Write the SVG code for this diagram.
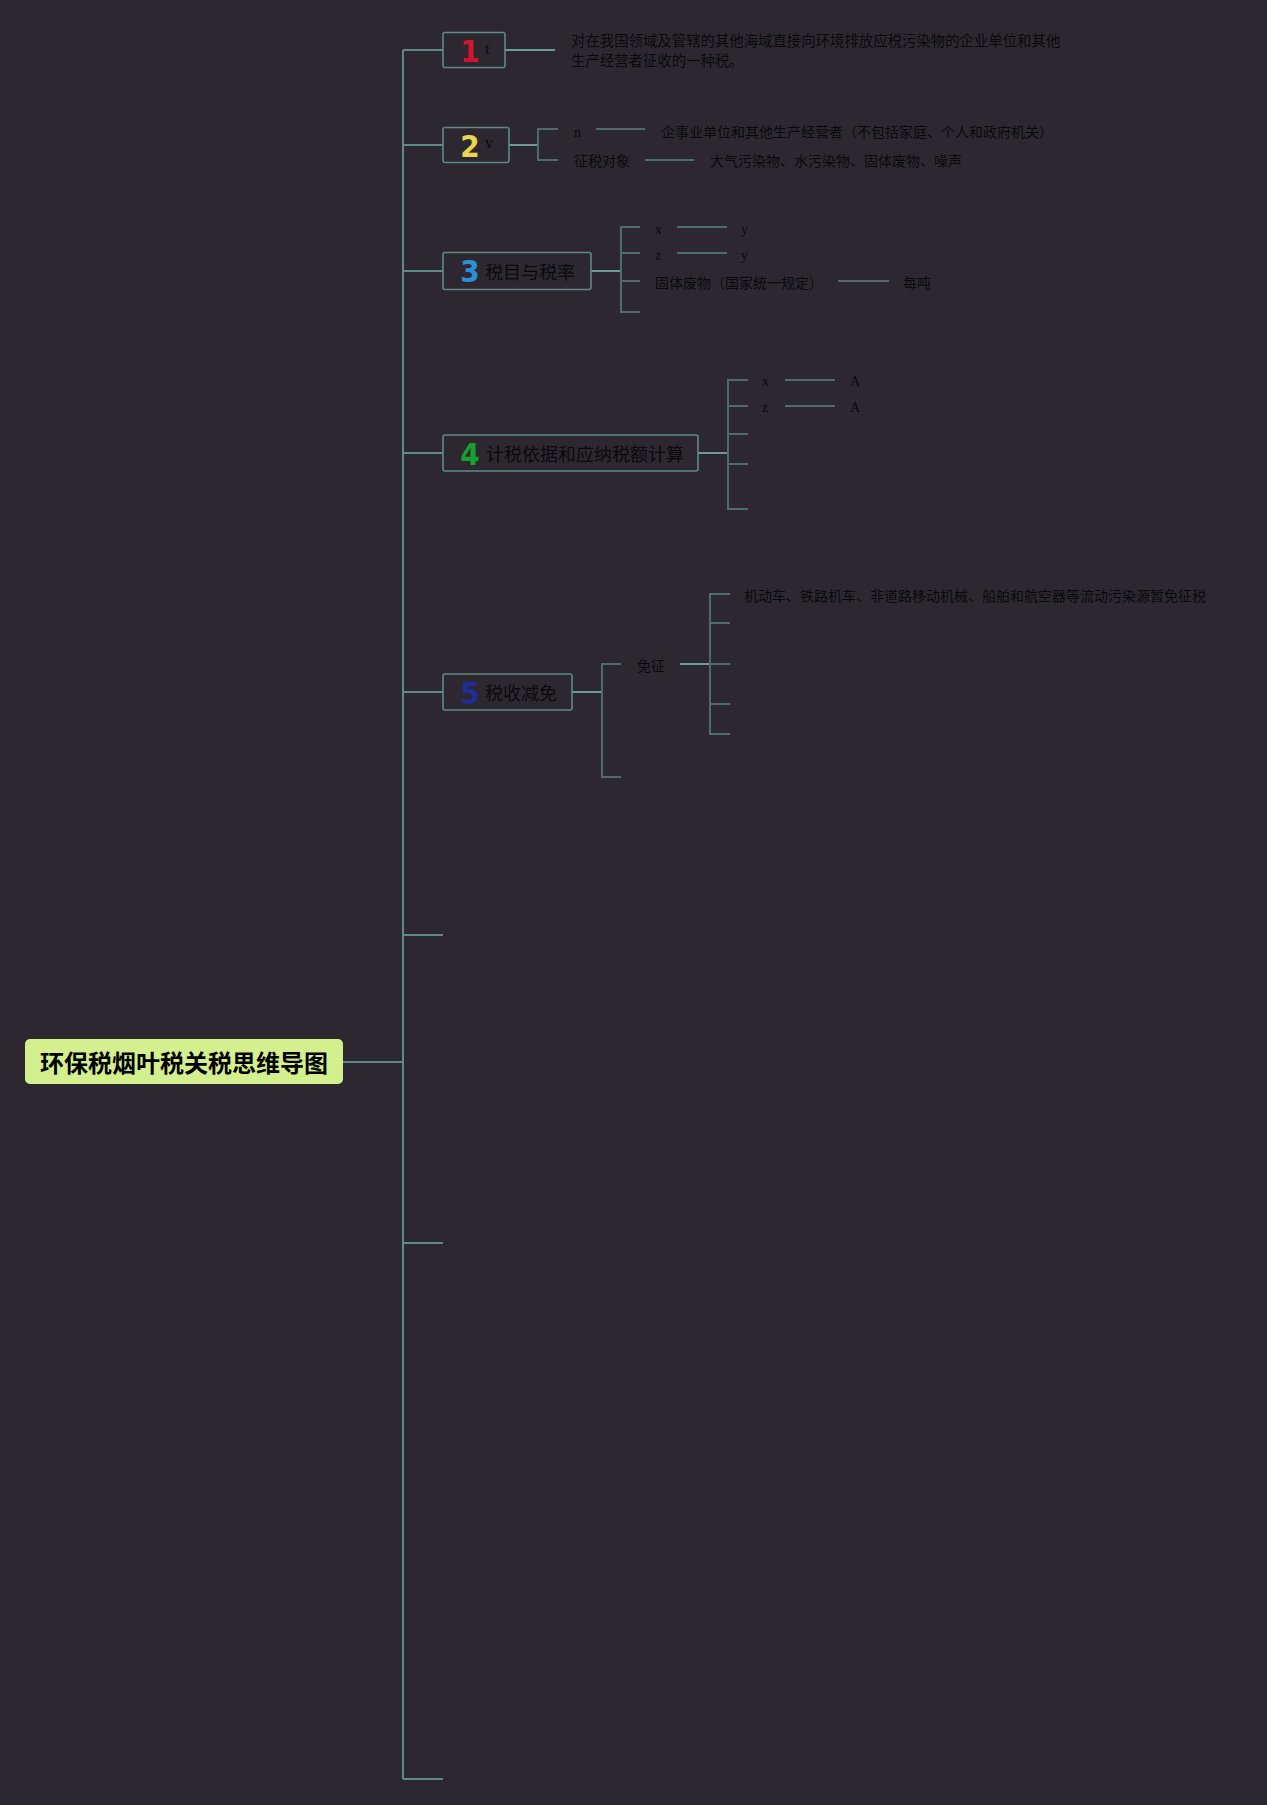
<svg xmlns="http://www.w3.org/2000/svg" width="1267" height="1805" viewBox="0 0 1267 1805">
<style>
.bg{fill:#2d2830}
.main{stroke:#5b8b84;stroke-width:2;fill:none}
.sub{stroke:#4e6c6a;stroke-width:2;fill:none}
.lite{stroke:#6a9e94;stroke-width:2;fill:none}
.box{fill:#2d2830;stroke:#5b8b84;stroke-width:1.6}
.t{font-family:"Liberation Sans","Noto Sans CJK SC",sans-serif;font-size:14px;fill:#0a0a0a}
.d{font-family:"Liberation Sans","Noto Sans CJK SC",sans-serif;font-size:14.4px;fill:#0a0a0a}
.tl{font-family:"Liberation Sans","Noto Sans CJK SC",sans-serif;font-size:18px;fill:#0a0a0a}
.s{font-family:"Liberation Serif",serif;font-size:14px;fill:#0a0a0a}
.sl{font-family:"Liberation Serif",serif;font-size:16px;fill:#0a0a0a}
.num{font-family:"Liberation Sans Narrow","DejaVu Sans Condensed","Liberation Sans",sans-serif;font-size:31px;font-weight:bold;text-anchor:middle}
.root{font-family:"Noto Sans CJK SC",sans-serif;font-size:24px;font-weight:bold;fill:#000;text-anchor:middle}
</style>
<rect class="bg" x="0" y="0" width="1267" height="1805"/>
<g id="connectors">
<path class="main" d="M343 1062H403M403 50V1779M403 50H443M403 145H443M403 271H443M403 453H443M403 692H443M403 935H443M403 1243H443M403 1779H443"/>
<path class="lite" d="M505 50H555M509 145H538M591 271H621M698 453H728M572 692H602M680 664H710"/>
<path class="sub" d="M558 129H538V160H558M596 129H645M645 160H694"/>
<path class="sub" d="M640 227H621V312H640M621 253H640M621 281H640M677 227H727M677 253H727M838 281H889"/>
<path class="sub" d="M748 380H728V509H748M728 406H748M728 434H748M728 464H748M785 380H835M785 406H835"/>
<path class="sub" d="M621 664H602V777H621M730 594H710V734H730M710 623H730M710 664H730M710 704H730"/>
</g>
<g id="root">
<rect x="25" y="1039" width="318" height="45" rx="5" fill="#d4f08e"/>
<text class="root" x="184" y="1072">环保税烟叶税关税思维导图</text>
</g>
<g id="n1">
<rect class="box" x="443" y="32.5" width="62" height="35" rx="2"/>
<text class="num" x="470" y="62" fill="#d3142e">1</text>
<text class="sl" x="485" y="54">t</text>
</g>
<g id="n1-desc">
<text class="d" x="571" y="46">对在我国领域及管辖的其他海域直接向环境排放应税污染物的企业单位和其他</text>
<text class="d" x="571" y="66">生产经营者征收的一种税。</text>
</g>
<g id="n2">
<rect class="box" x="443" y="127.5" width="66" height="35" rx="2"/>
<text class="num" x="470" y="157" fill="#e8d64e">2</text>
<text class="sl" x="485" y="148">v</text>
</g>
<g id="n2-a"><text class="s" x="574" y="137">n</text></g>
<g id="n2-a1"><text class="t" x="661" y="137">企事业单位和其他生产经营者（不包括家庭、个人和政府机关）</text></g>
<g id="n2-b"><text class="t" x="574" y="166">征税对象</text></g>
<g id="n2-b1"><text class="t" x="710" y="166">大气污染物、水污染物、固体废物、噪声</text></g>
<g id="n3">
<rect class="box" x="443" y="252.5" width="148" height="37" rx="2"/>
<text class="num" x="470" y="282" fill="#2a91d8">3</text>
<text class="tl" x="485" y="279">税目与税率</text>
</g>
<g id="n3-a"><text class="s" x="655" y="234">x</text></g>
<g id="n3-a1"><text class="s" x="741" y="234">y</text></g>
<g id="n3-b"><text class="s" x="655" y="260">z</text></g>
<g id="n3-b1"><text class="s" x="741" y="260">y</text></g>
<g id="n3-c"><text class="t" x="655" y="288">固体废物（国家统一规定）</text></g>
<g id="n3-c1"><text class="t" x="903" y="288">每吨</text></g>
<g id="n4">
<rect class="box" x="443" y="435" width="255" height="36" rx="2"/>
<text class="num" x="470" y="465" fill="#17a02c">4</text>
<text class="tl" x="486" y="460.5">计税依据和应纳税额计算</text>
</g>
<g id="n4-a"><text class="s" x="762" y="386">x</text></g>
<g id="n4-a1"><text class="s" x="850" y="386">A</text></g>
<g id="n4-b"><text class="s" x="762" y="412">z</text></g>
<g id="n4-b1"><text class="s" x="850" y="412">A</text></g>
<g id="n5">
<rect class="box" x="443" y="674" width="129" height="36" rx="2"/>
<text class="num" x="470" y="703.5" fill="#1f2c9c">5</text>
<text class="tl" x="485" y="699.5">税收减免</text>
</g>
<g id="n5-a"><text class="t" x="637" y="671">免征</text></g>
<g id="n5-a1"><text class="t" x="744" y="600.5">机动车、铁路机车、非道路移动机械、船舶和航空器等流动污染源暂免征税</text></g>
</svg>
